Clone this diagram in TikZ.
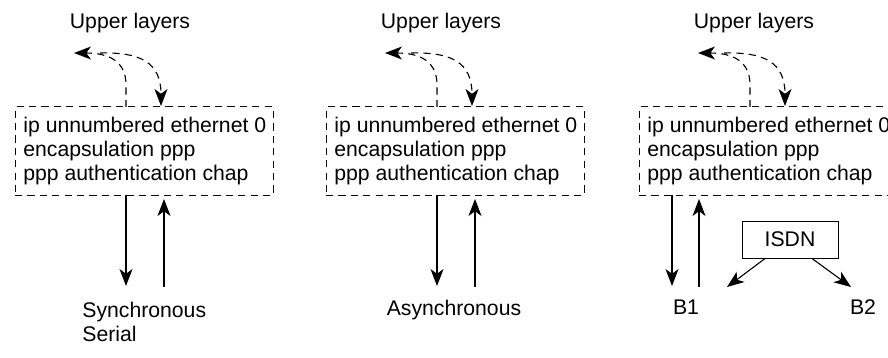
\documentclass[tikz,border=0pt]{standalone}
\usepackage{fontspec}
\setmainfont{Liberation Sans}
\usetikzlibrary{arrows.meta}
\begin{document}
\begin{tikzpicture}[x=0.5pt,y=-0.5pt,
  txt/.style={font=\fontsize{10.6pt}{12pt}\selectfont, inner sep=0pt},
  cfg/.style={draw, dash pattern=on 3.6pt off 2.6pt, line width=0.5pt,
    rectangle, minimum width=129pt, minimum height=44pt, inner sep=0pt},
  cfgtext/.style={txt, align=left, anchor=west},
  isdnbox/.style={txt, draw, line width=0.5pt, rectangle, minimum width=48pt, minimum height=18.5pt},
  tip/.style={-{Stealth[length=8.5pt,width=6.5pt,inset=2.4pt]}},
  solidarr/.style={tip, line width=0.55pt},
  dasharr/.style={tip, line width=0.55pt, dash pattern=on 3.6pt off 2.6pt}]
\useasboundingbox (0,0) rectangle (888,358);
\clip (0,0) rectangle (888,358);

% ---------- panel 1 ----------
\node[cfg] (box1) at (144,151) {};
\node[cfgtext] (cfg1) at (23,151) {ip unnumbered ethernet 0\\encapsulation ppp\\ppp authentication chap};
\node[txt] (up1) at (130,23) {Upper layers};
\coordinate (a1s) at (126,107);
\coordinate (a1e) at (74,53);
\coordinate (b1s) at (100,53);
\coordinate (b1e) at (161,106);
\draw[dasharr] (a1s) -- (126,85) .. controls (126,62) and (110,53) .. (a1e);
\draw[dasharr] (b1s) .. controls (140,52) and (161,62) .. (b1e);
\coordinate (d1s) at (126,195);
\coordinate (d1e) at (126,286);
\coordinate (u1s) at (164,287);
\coordinate (u1e) at (164,199);
\draw[solidarr] (d1s) -- (d1e);
\draw[solidarr] (u1s) -- (u1e);
\node[txt, align=left, anchor=west] (sync) at (82,322) {Synchronous\\Serial};

% ---------- panel 2 ----------
\node[cfg] (box2) at (455,151) {};
\node[cfgtext] (cfg2) at (334,151) {ip unnumbered ethernet 0\\encapsulation ppp\\ppp authentication chap};
\node[txt] (up2) at (441,23) {Upper layers};
\coordinate (a2s) at (437,107);
\coordinate (a2e) at (385,53);
\coordinate (b2s) at (411,53);
\coordinate (b2e) at (472,106);
\draw[dasharr] (a2s) -- (437,85) .. controls (437,62) and (421,53) .. (a2e);
\draw[dasharr] (b2s) .. controls (451,52) and (472,62) .. (b2e);
\coordinate (d2s) at (437,195);
\coordinate (d2e) at (437,286);
\coordinate (u2s) at (475,287);
\coordinate (u2e) at (475,199);
\draw[solidarr] (d2s) -- (d2e);
\draw[solidarr] (u2s) -- (u2e);
\node[txt] (async) at (454,310) {Asynchronous};

% ---------- panel 3 ----------
\node[cfg] (box3) at (768,151) {};
\node[cfgtext] (cfg3) at (647,151) {ip unnumbered ethernet 0\\encapsulation ppp\\ppp authentication chap};
\node[txt] (up3) at (754,23) {Upper layers};
\coordinate (a3s) at (750,107);
\coordinate (a3e) at (698,53);
\coordinate (b3s) at (724,53);
\coordinate (b3e) at (785,106);
\draw[dasharr] (a3s) -- (750,85) .. controls (750,62) and (734,53) .. (a3e);
\draw[dasharr] (b3s) .. controls (764,52) and (785,62) .. (b3e);
\coordinate (d3s) at (672,195);
\coordinate (d3e) at (672,286);
\coordinate (u3s) at (699,287);
\coordinate (u3e) at (699,199);
\draw[solidarr] (d3s) -- (d3e);
\draw[solidarr] (u3s) -- (u3e);
\node[txt] (bone) at (686,307) {B1};
\node[txt] (btwo) at (863,307) {B2};
\node[isdnbox] (isdn) at (790,239.5) {ISDN};
\coordinate (i1e) at (727,287);
\coordinate (i2e) at (851,287);
\draw[solidarr] (isdn.south -| 765,0) -- (i1e);
\draw[solidarr] (isdn.south -| 812,0) -- (i2e);
\end{tikzpicture}
\end{document}
